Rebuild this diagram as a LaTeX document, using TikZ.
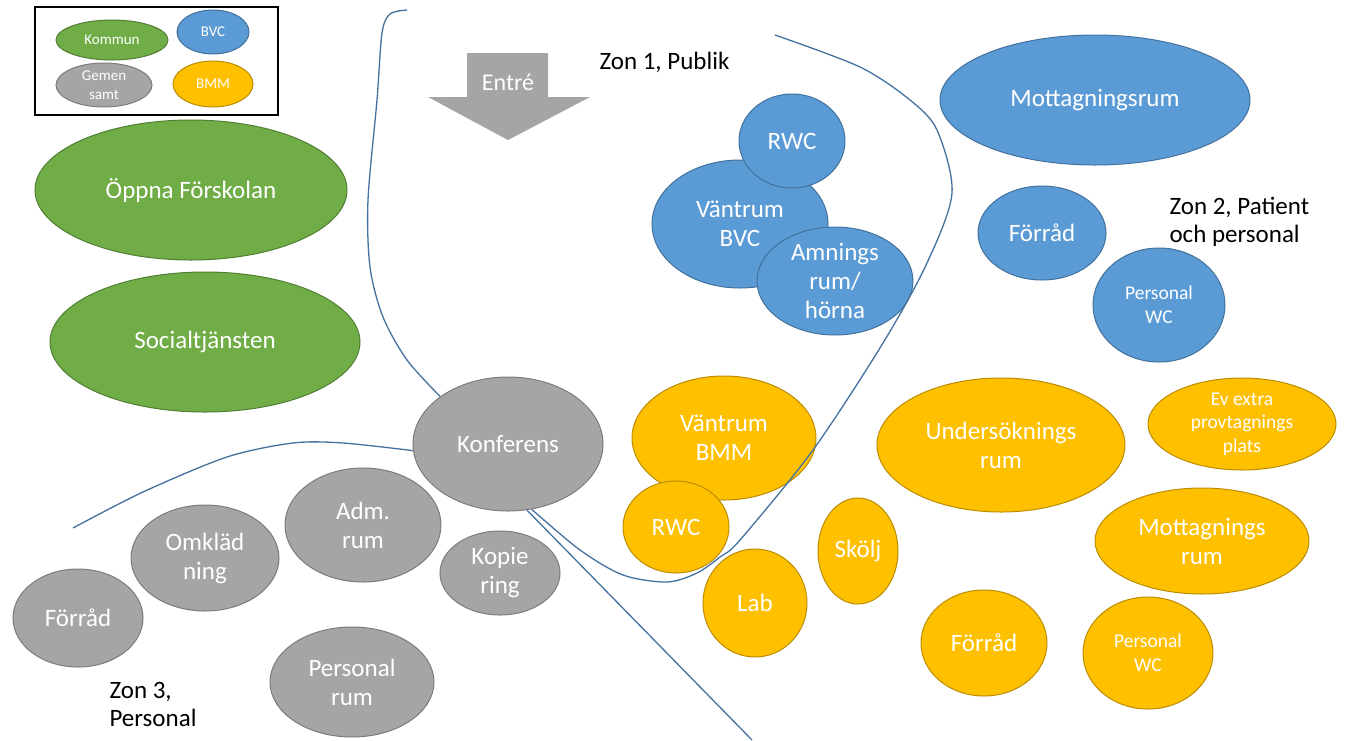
\documentclass[tikz,border=0pt]{standalone}
\usepackage{fontspec}
\setmainfont{Carlito}
\usetikzlibrary{shapes.geometric}
\definecolor{kommungreen}{RGB}{112,173,71}
\definecolor{kommunedge}{RGB}{80,126,50}
\definecolor{bvcblue}{RGB}{91,155,213}
\definecolor{bvcedge}{RGB}{65,113,156}
\definecolor{gemgrey}{RGB}{165,165,165}
\definecolor{gemedge}{RGB}{124,124,124}
\definecolor{bmmorange}{RGB}{255,192,0}
\definecolor{bmmedge}{RGB}{188,140,0}
\definecolor{zonline}{RGB}{68,114,160}

\tikzset{
  room/.style={ellipse, inner sep=0pt, line width=1pt, align=center, text=white,
    font=\fontsize{25}{29}\selectfont},
  ell/.style 2 args={minimum width=#1pt, minimum height=#2pt},
  kommun/.style={room, fill=kommungreen, draw=kommunedge},
  bvc/.style={room, fill=bvcblue, draw=bvcedge},
  gemen/.style={room, fill=gemgrey, draw=gemedge},
  bmm/.style={room, fill=bmmorange, draw=bmmedge},
  smalltext/.style={font=\fontsize{19.5}{23.5}\selectfont},
  legendtext/.style={font=\fontsize{15}{19}\selectfont},
  zone/.style={draw=zonline, line width=1.3pt},
  zonetext/.style={align=left, anchor=west, font=\fontsize{25}{28}\selectfont}
}

\begin{document}
\begin{tikzpicture}[x=1pt, y=-1pt]
    \fill[white] (0,0) rectangle (1350,740);
    \useasboundingbox (0,0) rectangle (1350,740);

    % Legend
    \draw[line width=1.3pt] (35,7) rectangle (278,115);
    \node[kommun, legendtext, ell={112}{40}] (legKommun) at (112,40) {Kommun};
    \node[bvc, legendtext, ell={72}{44}] (legBVC) at (213,32) {BVC};
    \node[gemen, legendtext, ell={96}{44}] (legGemen) at (104,85) {Gemen\\samt};
    \node[bmm, legendtext, ell={80}{46}] (legBMM) at (213,84) {BMM};

    % Entrance
    \fill[gemgrey] (467,53) -- (548,53) -- (548,97) -- (590,97) -- (508,140)
        -- (428,97) -- (467,97) -- cycle;
    \node[text=white, font=\fontsize{24}{29}\selectfont] (entre) at (508,82) {Entré};

    % Zone labels
    \node[zonetext] (zon1) at (596,62) {Zon 1, Publik};
    \node[zonetext] (zon2) at (1166,222) {Zon 2, Patient\\och personal};
    \node[zonetext] (zon3) at (106,704) {Zon 3,\\Personal};

    % Kommun
    \node[kommun, ell={312}{140}] (oppna) at (191,190) {Öppna Förskolan};
    \node[kommun, ell={310}{140}] (social) at (205,342) {Socialtjänsten};

    % BVC
    \node[bvc, ell={310}{130}] (mottBVC) at (1095,100) {Mottagningsrum};
    \node[bvc, ell={176}{128}] (vantBVC) at (740,224) {Väntrum\\BVC};
    \node[bvc, ell={106}{94}] (rwcBVC) at (792,141) {RWC};
    \node[bvc, ell={156}{108}] (amning) at (835,281) {Amnings\\rum/\\hörna};
    \node[bvc, ell={128}{94}] (forradBVC) at (1042,233) {Förråd};
    \node[bvc, smalltext, ell={132}{114}] (persBVC) at (1159,305) {Personal\\WC};

    % BMM
    \node[bmm, ell={184}{124}] (vantBMM) at (724,438) {Väntrum\\BMM};
    \node[bmm, ell={106}{92}] (rwcBMM) at (676,527) {RWC};
    \node[bmm, ell={104}{108}] (lab) at (755,603) {Lab};
    \node[bmm, ell={80}{106}] (skolj) at (858,551) {Skölj};
    \node[bmm, ell={248}{134}] (unders) at (1001,445) {Undersöknings\\rum};
    \node[bmm, smalltext, ell={188}{92}] (evextra) at (1242,424) {Ev extra\\provtagnings\\plats};
    \node[bmm, ell={214}{106}] (mottBMM) at (1202,541) {Mottagnings\\rum};
    \node[bmm, ell={126}{106}] (forradBMM) at (984,643) {Förråd};
    \node[bmm, smalltext, ell={130}{112}] (persBMM) at (1148,653) {Personal\\WC};

    % Gemensamt
    \node[gemen, ell={190}{134}] (konf) at (508,444) {Konferens};
    \node[gemen, ell={130}{98}] (forradGem) at (78,618) {Förråd};
    \node[gemen, ell={148}{106}] (omkl) at (205,558) {Omkläd\\ning};
    \node[gemen, ell={156}{114}] (adm) at (363,525) {Adm.\\rum};
    \node[gemen, ell={120}{84}] (kopie) at (500,573) {Kopie\\ring};
    \node[gemen, ell={164}{110}] (persrum) at (352,682) {Personal\\rum};

    % Zone borders
    \draw[zone] plot[smooth] coordinates {(407,10) (390,14) (382,33) (377,100)
        (368,200) (370,267) (383,317) (407,360) (konf.145)};
    \draw[zone] plot[smooth] coordinates {(775,35) (860,67) (910,100) (937,130)
        (952,193) (927,263) (883,343) (813,450) (740,540) (720,557) (697,573)
        (667,582) (623,575) (580,550) (konf.-70)};
    \draw[zone] (konf.-74) -- (752,740);
    \draw[zone] plot[smooth] coordinates {(73,528) (143,492) (227,457) (293,443)
        (343,443) (konf.184)};
\end{tikzpicture}
\end{document}
